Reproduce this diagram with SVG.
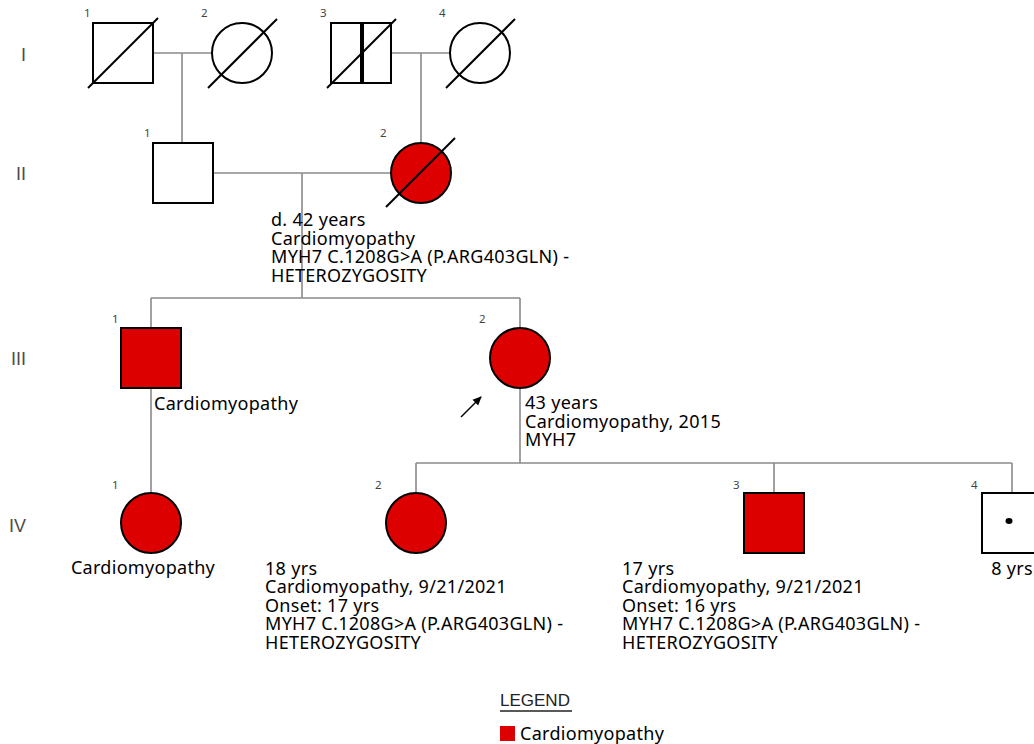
<svg xmlns="http://www.w3.org/2000/svg" width="1034" height="744" viewBox="0 0 1034 744">
<defs>
<style>
.sym{stroke:#000;stroke-width:2;fill:#fff}
.aff{fill:#dd0000}
.dead{stroke:#000;stroke-width:2}
.con{stroke:#8a8a8a;stroke-width:1.6;fill:none}
.num{font-family:"Noto Sans","Open Sans",sans-serif;font-size:11.5px;fill:#444}
.gen{font-family:"Liberation Sans",Arial,sans-serif;font-size:18px;fill:#4a4a4a;text-anchor:end}
.lbl{font-family:"Noto Sans","Open Sans",sans-serif;font-size:18px;letter-spacing:0.3px;fill:#000}
</style>
<marker id="ah" markerWidth="10" markerHeight="10" refX="8" refY="5" orient="auto" markerUnits="userSpaceOnUse">
<path d="M0,1 L9,5 L0,9 Z" fill="#000"/>
</marker>
</defs>
<rect width="1034" height="744" fill="#fff"/>

<g id="generations">
<text class="gen" x="26" y="61">I</text>
<text class="gen" x="26" y="180">II</text>
<text class="gen" x="26" y="365">III</text>
<text class="gen" x="26" y="532">IV</text>
</g>

<g id="connectors">
<path class="con" d="M154,53 H212 M182,53 V143"/>
<path class="con" d="M391,53 H450 M421,53 V143"/>
<path class="con" d="M213,173 H391 M302,173 V298"/>
<path class="con" d="M151,298 H520 M151,298 V328 M520,298 V328"/>
<path class="con" d="M151,388 V493"/>
<path class="con" d="M520,388 V463 M416,463 H1012 M416,463 V493 M774,463 V493 M1012,463 V493"/>
<line x1="461" y1="417" x2="481" y2="397" stroke="#000" stroke-width="1.5" marker-end="url(#ah)"/>
</g>

<g id="I-1">
<text class="num" x="84" y="17">1</text>
<rect class="sym" x="93" y="23" width="60" height="60"/>
<line class="dead" x1="88" y1="88" x2="158" y2="18"/>
</g>
<g id="I-2">
<text class="num" x="201" y="17">2</text>
<circle class="sym" cx="242" cy="53" r="30"/>
<line class="dead" x1="208" y1="88" x2="277" y2="19"/>
</g>
<g id="I-3">
<text class="num" x="320" y="17">3</text>
<rect class="sym" x="331" y="23" width="60" height="60"/>
<line x1="362" y1="23" x2="362" y2="83" stroke="#000" stroke-width="4"/>
<line class="dead" x1="327" y1="88" x2="396" y2="19"/>
</g>
<g id="I-4">
<text class="num" x="439" y="17">4</text>
<circle class="sym" cx="480" cy="53" r="30"/>
<line class="dead" x1="446" y1="88" x2="515" y2="19"/>
</g>

<g id="II-1">
<text class="num" x="144" y="137">1</text>
<rect class="sym" x="153" y="143" width="60" height="60"/>
</g>
<g id="II-2">
<text class="num" x="380" y="137">2</text>
<circle class="sym aff" cx="421" cy="173" r="30"/>
<line class="dead" x1="386" y1="207" x2="455" y2="138"/>
<text class="lbl" x="271" y="226">d. 42 years</text>
<text class="lbl" x="271" y="244.5">Cardiomyopathy</text>
<text class="lbl" x="271" y="263">MYH7 C.1208G&gt;A (P.ARG403GLN) -</text>
<text class="lbl" x="271" y="281.5">HETEROZYGOSITY</text>
</g>

<g id="III-1">
<text class="num" x="112" y="323">1</text>
<rect class="sym aff" x="121" y="328" width="60" height="60"/>
<text class="lbl" x="154" y="410">Cardiomyopathy</text>
</g>
<g id="III-2">
<text class="num" x="479" y="323">2</text>
<circle class="sym aff" cx="520" cy="358" r="30"/>
<text class="lbl" x="525" y="409">43 years</text>
<text class="lbl" x="525" y="427.5">Cardiomyopathy, 2015</text>
<text class="lbl" x="525" y="446">MYH7</text>
</g>

<g id="IV-1">
<text class="num" x="112" y="489">1</text>
<circle class="sym aff" cx="151" cy="523" r="30"/>
<text class="lbl" x="143" y="574" text-anchor="middle">Cardiomyopathy</text>
</g>
<g id="IV-2">
<text class="num" x="375" y="489">2</text>
<circle class="sym aff" cx="416" cy="523" r="30"/>
<text class="lbl" x="265" y="575">18 yrs</text>
<text class="lbl" x="265" y="593.4">Cardiomyopathy, 9/21/2021</text>
<text class="lbl" x="265" y="611.8">Onset: 17 yrs</text>
<text class="lbl" x="265" y="630.2">MYH7 C.1208G&gt;A (P.ARG403GLN) -</text>
<text class="lbl" x="265" y="648.6">HETEROZYGOSITY</text>
</g>
<g id="IV-3">
<text class="num" x="733" y="489">3</text>
<rect class="sym aff" x="744" y="493" width="60" height="60"/>
<text class="lbl" x="622" y="575">17 yrs</text>
<text class="lbl" x="622" y="593.4">Cardiomyopathy, 9/21/2021</text>
<text class="lbl" x="622" y="611.8">Onset: 16 yrs</text>
<text class="lbl" x="622" y="630.2">MYH7 C.1208G&gt;A (P.ARG403GLN) -</text>
<text class="lbl" x="622" y="648.6">HETEROZYGOSITY</text>
</g>
<g id="IV-4">
<text class="num" x="971" y="489">4</text>
<rect class="sym" x="982" y="493" width="60" height="60"/>
<ellipse cx="1009" cy="521" rx="3.5" ry="3" fill="#000"/>
<text class="lbl" x="1012" y="575" text-anchor="middle">8 yrs</text>
</g>

<g id="legend">
<text x="500" y="706" font-family="'Liberation Sans',Arial,sans-serif" font-size="17" fill="#222">LEGEND</text>
<line x1="500" y1="711" x2="572" y2="711" stroke="#222" stroke-width="1.5"/>
<rect x="500" y="726" width="15" height="15" fill="#dd0000"/>
<text class="lbl" x="520" y="740">Cardiomyopathy</text>
</g>
</svg>
